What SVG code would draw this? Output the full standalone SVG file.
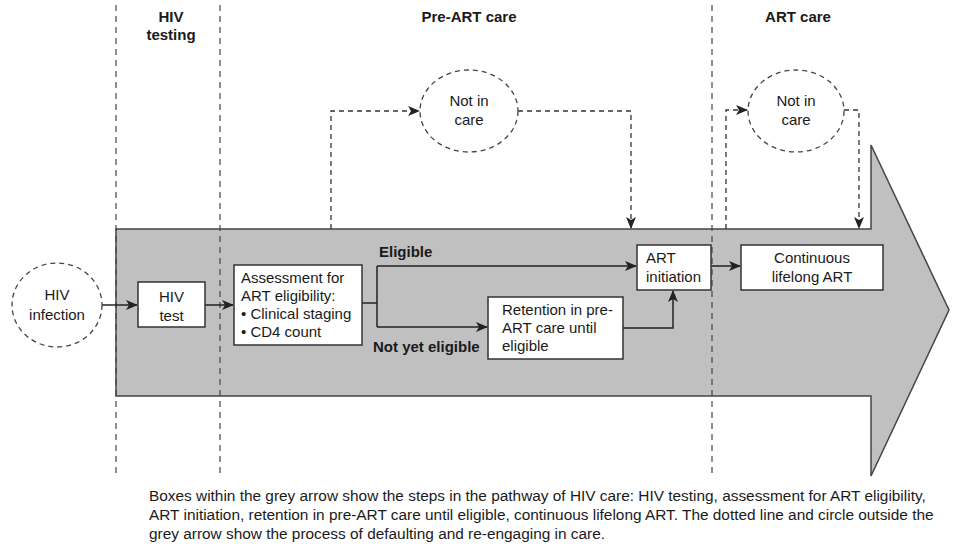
<svg xmlns="http://www.w3.org/2000/svg" width="954" height="544" viewBox="0 0 954 544">
<defs>
<style>
text{font-family:"Liberation Sans",Arial,sans-serif;fill:#1a1a1a}
.h{font-size:15px;font-weight:bold;text-anchor:middle}
.t{font-size:15px}
.c{text-anchor:middle}
.b{font-size:15px;font-weight:bold}
.cap{font-size:15.4px}
.box{fill:#fff;stroke:#333;stroke-width:1.5}
.dc{fill:#fff;stroke:#444;stroke-width:1.3;stroke-dasharray:5,4}
.sep{stroke:#444;stroke-width:1.2;stroke-dasharray:6,5;fill:none}
.ln{fill:none;stroke:#222;stroke-width:1.5}
.dl{fill:none;stroke:#333;stroke-width:1.3;stroke-dasharray:5,4}
</style>
<marker id="ah" viewBox="0 0 12 10" refX="11" refY="5" markerWidth="12" markerHeight="10" markerUnits="userSpaceOnUse" orient="auto">
<path d="M0,0 L12,5 L0,10 L3,5 Z" fill="#222"/>
</marker>
</defs>
<rect width="954" height="544" fill="#fff"/>
<polygon id="grey-arrow" points="116,229 871,229 871,145 949,310 871,476 871,396 116,396" fill="#c0c0c0" stroke="#444" stroke-width="1.5"/>
<g id="separators">
<line class="sep" x1="116" y1="5" x2="116" y2="478"/>
<line class="sep" x1="220" y1="5" x2="220" y2="478"/>
<line class="sep" x1="712" y1="5" x2="712" y2="478"/>
</g>
<g id="headers">
<text class="h" x="171" y="22">HIV</text>
<text class="h" x="171" y="40">testing</text>
<text class="h" x="469" y="22">Pre-ART care</text>
<text class="h" x="798" y="22">ART care</text>
</g>
<g id="connectors">
<path class="ln" d="M102,305 H137" marker-end="url(#ah)"/>
<path class="ln" d="M205,305 H233" marker-end="url(#ah)"/>
<path class="ln" d="M362,303 H377"/>
<path class="ln" d="M377,266 V327"/>
<path class="ln" d="M377,266 H636" marker-end="url(#ah)"/>
<path class="ln" d="M377,327 H487" marker-end="url(#ah)"/>
<path class="ln" d="M623,328 H673 V291" marker-end="url(#ah)"/>
<path class="ln" d="M711,266 H740" marker-end="url(#ah)"/>
<path class="dl" d="M331,229 V111 H419" marker-end="url(#ah)"/>
<path class="dl" d="M518,111 H631 V228" marker-end="url(#ah)"/>
<path class="dl" d="M726,229 V110 H747" marker-end="url(#ah)"/>
<path class="dl" d="M844,110 H859 V228" marker-end="url(#ah)"/>
</g>
<g id="edge-labels">
<text class="b" x="379" y="257">Eligible</text>
<text class="b" x="373" y="352">Not yet eligible</text>
</g>
<g id="hiv-infection">
<ellipse class="dc" cx="57" cy="305" rx="45" ry="42"/>
<text class="t c" x="57" y="300">HIV</text>
<text class="t c" x="57" y="320">infection</text>
</g>
<g id="hiv-test">
<rect class="box" x="138" y="282" width="67" height="45"/>
<text class="t c" x="171.5" y="302">HIV</text>
<text class="t c" x="171.5" y="321">test</text>
</g>
<g id="assessment">
<rect class="box" x="234" y="265" width="128" height="80"/>
<text class="t" x="241" y="283">Assessment for</text>
<text class="t" x="241" y="301">ART eligibility:</text>
<text class="t" x="241" y="319">• Clinical staging</text>
<text class="t" x="241" y="337">• CD4 count</text>
</g>
<g id="retention">
<rect class="box" x="488" y="297" width="135" height="62"/>
<text class="t" x="502" y="315">Retention in pre-</text>
<text class="t" x="502" y="333">ART care until</text>
<text class="t" x="502" y="351">eligible</text>
</g>
<g id="art-initiation">
<rect class="box" x="637" y="245" width="74" height="45"/>
<text class="t" x="646" y="263">ART</text>
<text class="t" x="646" y="282">initiation</text>
</g>
<g id="continuous-art">
<rect class="box" x="741" y="245" width="142" height="45"/>
<text class="t c" x="812" y="263">Continuous</text>
<text class="t c" x="812" y="282">lifelong ART</text>
</g>
<g id="not-in-care-1">
<ellipse class="dc" cx="469" cy="111" rx="49" ry="41"/>
<text class="t c" x="469" y="106">Not in</text>
<text class="t c" x="469" y="125">care</text>
</g>
<g id="not-in-care-2">
<ellipse class="dc" cx="796" cy="111" rx="48" ry="41"/>
<text class="t c" x="796" y="106">Not in</text>
<text class="t c" x="796" y="125">care</text>
</g>
<g id="caption">
<text class="cap" x="149" y="501">Boxes within the grey arrow show the steps in the pathway of HIV care: HIV testing, assessment for ART eligibility,</text>
<text class="cap" x="149" y="520">ART initiation, retention in pre-ART care until eligible, continuous lifelong ART. The dotted line and circle outside the</text>
<text class="cap" x="149" y="539">grey arrow show the process of defaulting and re-engaging in care.</text>
</g>
</svg>
